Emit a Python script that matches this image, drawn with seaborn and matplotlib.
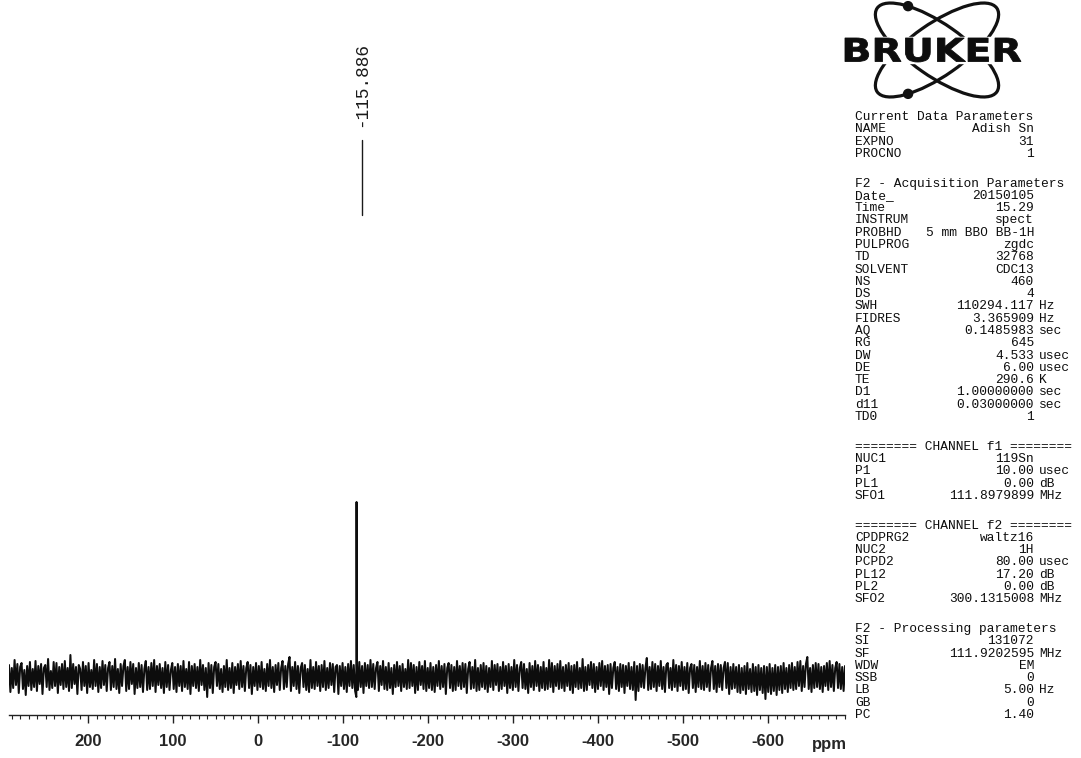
import numpy as np
import pandas as pd
import matplotlib
matplotlib.use("Agg")
import matplotlib.pyplot as plt
import seaborn as sns
from matplotlib.patches import Ellipse, Circle, PathPatch, Rectangle
from matplotlib.textpath import TextPath
from matplotlib.font_manager import FontProperties
from matplotlib.transforms import Affine2D, ScaledTranslation
from matplotlib.ticker import MultipleLocator

# ---------------- spectrum data ----------------
# spectral window (ppm), left and right edges
ppm_left, ppm_right = 293.0, -690.5

# baseline noise, evenly sampled across the window (intensity units)
noise = [
    12, -15, 9, -11, 17, -8, 13, -16, 10, 14, -12, 7, -18, 11, -9, 15, -13, 8, -10, 16,
    -14, 11, -7, 13, -17, 9, 12, -10, 18, -13, 6, -11, 15, -9, 14, -16, 10, -8, 13, -12,
    16, -10, 9, -14, 22, -11, 13, -7, 10, -17, 12, 8, -13, 15, -9, 11, -16, 14, -10, 7,
    -12, 17, -9, 13, -15, 10, -11, 16, -8, 12, -14, 9, 15, -13, 11, -10, 18, -12, 8, -16,
    13, -9, 11, 17, -14, 10, -12, 15, -7, 13, -17, 9, -11, 14, -10, 12, -15, 8, 16, -13,
    10, -12, 14, -9, 17, -15, 11, -8, 13, -11, 9, -16, 15, -10, 12, -13, 7, 14, -12, 10,
    -15, 13, -9, 11, -14, 16, -10, 8, -12, 15, -17, 11, -9, 13, -11, 10, -14, 17, -8, 12,
    -13, 9, -20, 14, -11, 12, -16, 10, 15, -9, 13, -12, 8, -15, 11, -10, 17, -13, 9, -11,
    14, -16, 10, -8, 13, -12, 16, -10, 11, -14, 9, 15, -11, 12, -17, 10, -9, 14, -13, 11,
    -10, 15, -12, 8, -14, 13, -9, 17, -11, 10, -15, 12, -8, 14, -13, 9, 16, -12, 11, -10,
    13, 20, -14, 10, -9, 15, -12, 11, -16, 9, 14, -10, 12, -13, 8, -15, 17, -11, 10, -12,
    15, -9, 11, -14, 12, -10, 16, -13, 9, -11, 14, -8, 13, -15, 10, 12, -17, 11, -9, 14,
    -12, 10, -15, 13, -9, 16, -11, 12, -14, 8, -13, 15, -10, 11, -16, 14, -9, 12, -11, 17,
    -10, 13, -12, 9, 15, -14, 11, -8, 16, -12, 10, -13, 14, -11, 9, -17, 12, -10, 15, -9,
    11, -14, 13, -10, 8, -12, 17, -11, 14, -9, 12, -16, 10, -13, 15, -8, 11, -12, 16, -14,
    9, -11, 14, -13, 10, -15, 12, -9, 16, -12, 11, -10, 13, -17, 9, 14, -11, 12, -14, 10,
    -13, 16, -9, 11, -12, 14, -10, 13, -16, 8, 15, -12, 10, -11, 17, -14, 9, -13, 12, -10,
    14, -12, 11, -15, 9, -10, 16, -13, 12, -8, 13, -14, 10, -12, 15, -9, 11, -16, 13, -11,
    10, -13, 17, -10, 12, -14, 9, 15, -11, 13, -12, 8, -16, 14, -10, 11, -13, 16, -9, 12,
    -14, 10, -11, 15, -13, 9, -12, 17, -10, 14, -15, 11, -9, 13, -12, 16, -11, 10, -14, 12,
    -9, 14, -13, 11, -16, 12, -10, 15, -12, 9, -11, 18, -14, 10, -13, 12, -8, 15, -11, 13,
    -15, 10, -12, 14, -9, 16, -13, 11, -10, 12, -17, 13, -11, 9, 15, -12, 10, -14, 13, -10,
    12, -16, 11, -9, 14, -12, 10, -13, 15, -23, 11, -14, 13, -10, 12, -11, 9, 19, -13, 10,
    -12, 15, -10, 13, -14, 11, -9, 16, -12, 10, -15, 12, 14, -11, 9, -13, 17, -10, 12, -14,
    11, -9, 15, -13, 10, -12, 14, -16, 9, 13, -11, 12, -15, 10, -10, 16, -12, 11, -13, 14,
    -10, 12, -14, 9, 16, -12, 11, -15, 13, -10, 12, -13, 9, 15, -11, 14, -17, 10, -12, 13,
    -11, 10, -15, 12, -16, 9, -13, 11, -17, 14, -12, 8, -15, 13, -14, 10, -18, 12, -13, 9,
    -16, 11, -22, 10, -15, 13, -17, 9, -14, 12, -18, 10, -13, 11, -16, 14, -12, 9, -15, 12,
    -11, 14, -13, 10, -12, 15, -9, 16, -14, 11, -10, 13, 20, -12, 9, -15, 12, -11, 14, -10,
    13, -12, 10, -15, 11, -9, 14, -13, 16, -10, 12, -14, 9, 15, -11, 13, -12, 10, -14, 11,
]

# the 119Sn resonance
peak_ppm = [-115.60, -115.886, -116.20]
peak_int = [-20, 175, -12]
peak_label = "-115.886"

# axis ticks
tick_values = [200, 100, 0, -100, -200, -300, -400, -500, -600]
tick_labels = ["200", "100", "0", "-100", "-200", "-300", "-400", "-500", "-600"]

# ---------------- acquisition / processing parameters ----------------
hdr_current = "Current Data Parameters"
cur_names = ["NAME", "EXPNO", "PROCNO"]
cur_vals = ["Adish Sn", "31", "1"]
cur_units = ["", "", ""]

hdr_acq = "F2 - Acquisition Parameters"
acq_names = ["Date_", "Time", "INSTRUM", "PROBHD", "PULPROG", "TD", "SOLVENT",
             "NS", "DS", "SWH", "FIDRES", "AQ", "RG", "DW", "DE", "TE", "D1",
             "d11", "TD0"]
acq_vals = ["20150105", "15.29", "spect", "5 mm BBO BB-1H", "zgdc", "32768",
            "CDC13", "460", "4", "110294.117", "3.365909", "0.1485983", "645",
            "4.533", "6.00", "290.6", "1.00000000", "0.03000000", "1"]
acq_units = ["", "", "", "", "", "", "", "", "", "Hz", "Hz", "sec", "",
             "usec", "usec", "K", "sec", "sec", ""]

hdr_f1 = "======== CHANNEL f1 ========"
f1_names = ["NUC1", "P1", "PL1", "SFO1"]
f1_vals = ["119Sn", "10.00", "0.00", "111.8979899"]
f1_units = ["", "usec", "dB", "MHz"]

hdr_f2 = "======== CHANNEL f2 ========"
f2_names = ["CPDPRG2", "NUC2", "PCPD2", "PL12", "PL2", "SFO2"]
f2_vals = ["waltz16", "1H", "80.00", "17.20", "0.00", "300.1315008"]
f2_units = ["", "", "usec", "dB", "dB", "MHz"]

hdr_proc = "F2 - Processing parameters"
proc_names = ["SI", "SF", "WDW", "SSB", "LB", "GB", "PC"]
proc_vals = ["131072", "111.9202595", "EM", "0", "5.00", "0", "1.40"]
proc_units = ["", "MHz", "", "", "Hz", "", ""]

# ---------------- figure ----------------
sns.set_style("white")
plt.rcParams["font.family"] = ["Liberation Sans", "DejaVu Sans"]
plt.rcParams["axes.unicode_minus"] = False

W, H = 1081, 758
fig = plt.figure(figsize=(W / 100, H / 100), dpi=100)
fig.patch.set_facecolor("white")

# spectrum axes (pixel-based layout)
x0_px, x1_px, base_px = 9, 845, 715
ax = fig.add_axes([x0_px / W, (H - base_px) / H, (x1_px - x0_px) / W, base_px / H])
ax.set_facecolor("none")

noise_ppm = np.linspace(ppm_left, ppm_right, len(noise))
df = pd.DataFrame({
    "ppm": np.concatenate([noise_ppm, peak_ppm]),
    "intensity": np.concatenate([noise, peak_int]).astype(float),
}).sort_values("ppm")

sns.lineplot(data=df, x="ppm", y="intensity", ax=ax, color="#0d0d0d",
             linewidth=1.45, estimator=None, sort=True)

ax.set_xlim(ppm_left, ppm_right)
ax.set_ylim(-38, 677)
ax.set_xlabel("")
ax.set_ylabel("")
ax.set_yticks([])
for side in ("left", "right", "top"):
    ax.spines[side].set_visible(False)
ax.spines["bottom"].set_linewidth(1.0)
ax.spines["bottom"].set_color("#222222")

ax.set_xticks(tick_values, tick_labels, fontweight="bold", fontsize=12)
ax.xaxis.set_minor_locator(MultipleLocator(10))
ax.tick_params(axis="x", which="major", direction="out", length=6, width=1.0,
               color="#222222", pad=8, bottom=True)
ax.tick_params(axis="x", which="minor", direction="out", length=3, width=0.8,
               color="#222222", bottom=True)

fig.text(829 / W, 1 - 749 / H, "ppm", ha="center", va="baseline",
         fontsize=12, fontweight="bold")

# peak label: short tick with the rotated shift value above it
shift = ax.transData + ScaledTranslation(5 / 100, 0, fig.dpi_scale_trans)
pk = peak_ppm[1]
ax.plot([pk, pk], [462, 537], color="#1a1a1a", lw=1.0, transform=shift)
ax.text(pk, 550, peak_label, rotation=90, ha="center", va="bottom",
        family="Liberation Mono", fontsize=12.8, color="#1a1a1a",
        transform=shift)

# ---------------- overlay in pixel coordinates ----------------
ov = fig.add_axes([0, 0, 1, 1])
ov.set_xlim(0, W)
ov.set_ylim(H, 0)
ov.axis("off")

# logo: two crossing orbits with electrons, word mark in front
cx, cy, oa, ob, th = 937, 50, 146, 52, 35
for ang in (th, -th):
    ov.add_patch(Ellipse((cx, cy), oa, ob, angle=ang, fill=False,
                         ec="#111111", lw=2.3))
for ang, t in ((th, 228), (-th, 132)):
    r, tr = np.radians(ang), np.radians(t)
    ex = cx + oa / 2 * np.cos(tr) * np.cos(r) - ob / 2 * np.sin(tr) * np.sin(r)
    ey = cy + oa / 2 * np.cos(tr) * np.sin(r) + ob / 2 * np.sin(tr) * np.cos(r)
    ov.add_patch(Circle((ex, ey), 4.5, color="#111111"))
ov.add_patch(Rectangle((838, 37), 192, 26, color="white", zorder=3))
tp = TextPath((0, 0), "BRUKER", size=30,
              prop=FontProperties(family="DejaVu Sans", weight="heavy"))
ext = tp.get_extents()
sx = 176 / ext.width
sy = 24 / ext.height
tf = Affine2D().translate(-ext.x0, -ext.y0).scale(sx, -sy).translate(845, 62)
ov.add_patch(PathPatch(tf.transform_path(tp), color="#0d0d0d", lw=0.6,
                       ec="#0d0d0d", zorder=4))

# parameter listing
mono = dict(family="Liberation Mono", fontsize=9.3, color="#0d0d0d")
name_x, val_x, unit_x = 855, 1034, 1039
line_h, gap_h = 12.28, 17.5
y = 117.0
groups = [
    (hdr_current, cur_names, cur_vals, cur_units),
    (hdr_acq, acq_names, acq_vals, acq_units),
    (hdr_f1, f1_names, f1_vals, f1_units),
    (hdr_f2, f2_names, f2_vals, f2_units),
    (hdr_proc, proc_names, proc_vals, proc_units),
]
for gi, (hdr, names, vals, units) in enumerate(groups):
    if gi > 0:
        y += line_h + gap_h
    ov.text(name_x, y, hdr, ha="left", va="center", **mono)
    for n, v, u in zip(names, vals, units):
        y += line_h
        ov.text(name_x, y, n, ha="left", va="center", **mono)
        ov.text(val_x, y, v, ha="right", va="center", **mono)
        if u:
            ov.text(unit_x, y, u, ha="left", va="center", **mono)

fig.savefig("out.png", dpi=100, facecolor="white")
